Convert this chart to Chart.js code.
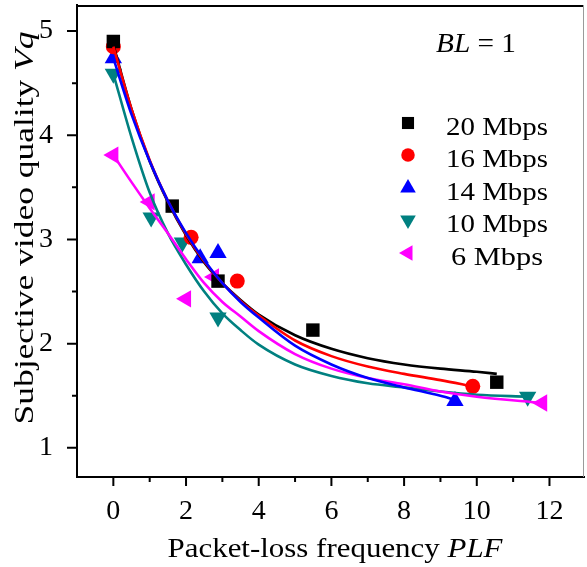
<!DOCTYPE html>
<html lang="en">
<head>
<meta charset="UTF-8" />
<title>Subjective video quality vs packet-loss frequency</title>
<script src="https://cdn.jsdelivr.net/npm/chart.js"></script>
<style>
  html, body { margin: 0; padding: 0; background: #fff; }
  #wrap { width: 587px; height: 567px; }
</style>
</head>
<body>
<div id="wrap"><canvas id="myChart" width="587" height="567"></canvas></div>
<script>
  // measured points (PLF, Vq)
  const plf20 = [0, 1.62, 2.88, 5.49, 10.55];
  const vq20  = [4.90, 3.32, 2.60, 2.13, 1.63];
  const plf16 = [0, 2.14, 3.41, 9.89];
  const vq16  = [4.85, 3.02, 2.60, 1.59];
  const plf14 = [0, 2.39, 2.88, 9.4];
  const vq14  = [4.74, 2.82, 2.87, 1.45];
  const plf10 = [0, 1.04, 1.9, 2.88, 11.4];
  const vq10  = [4.59, 3.21, 2.97, 2.25, 1.49];
  const plf6  = [0, 1.0, 2.0, 2.77, 11.8];
  const vq6   = [3.81, 3.36, 2.43, 2.64, 1.43];

  // fitted curves
  const fitX20 = [0, 0.5, 1, 1.5, 2, 2.5, 3, 3.5, 4, 5, 6, 7, 8, 9, 10, 10.55];
  const fitY20 = [4.87, 4.25, 3.75, 3.36, 3.04, 2.78, 2.58, 2.42, 2.28, 2.08, 1.95, 1.86, 1.80, 1.76, 1.73, 1.71];
  const fitX16 = [0, 0.5, 1, 1.5, 2, 2.5, 3, 3.5, 4, 5, 6, 7, 8, 9, 9.89];
  const fitY16 = [4.85, 4.25, 3.76, 3.37, 3.05, 2.79, 2.58, 2.41, 2.27, 2.03, 1.88, 1.78, 1.71, 1.65, 1.59];
  const fitX14 = [0, 0.5, 1, 1.5, 2, 2.5, 3, 3.5, 4, 5, 6, 7, 8, 9, 9.4];
  const fitY14 = [4.74, 4.20, 3.75, 3.37, 3.06, 2.80, 2.58, 2.40, 2.25, 1.98, 1.80, 1.67, 1.58, 1.50, 1.46];
  const fitX10 = [0, 0.5, 1, 1.5, 2, 2.5, 3, 3.5, 4, 5, 6, 7, 8, 9, 10, 11.4];
  const fitY10 = [4.59, 3.98, 3.45, 3.06, 2.76, 2.50, 2.29, 2.13, 1.99, 1.80, 1.69, 1.62, 1.58, 1.54, 1.51, 1.49];
  const fitX6  = [0, 0.5, 1, 1.5, 2, 2.5, 3, 3.5, 4, 5, 6, 7, 8, 9, 10, 11.8];
  const fitY6  = [3.81, 3.55, 3.30, 3.06, 2.81, 2.58, 2.40, 2.26, 2.12, 1.90, 1.76, 1.67, 1.61, 1.54, 1.49, 1.43];

  const seriesNames = ["20 Mbps", "16 Mbps", "14 Mbps", "10 Mbps", "6 Mbps"];
  const seriesColors = ["#000000", "#ff0000", "#0000ff", "#008080", "#ff00ff"];
  const seriesStyles = ["rect", "circle", "triangle", "triangle", "triangle"];
  const seriesRotation = [0, 0, 0, 180, -90];
  const seriesRadius = [9.5, 7.5, 10, 10, 10];

  const xTicks = [0, 2, 4, 6, 8, 10, 12];
  const yTicks = [1, 2, 3, 4, 5];
  const xMinor = [1, 3, 5, 7, 9, 11];
  const yMinor = [1.5, 2.5, 3.5, 4.5];

  const FONT = '"Liberation Serif", "Times New Roman", serif';

  const pts = (xs, ys) => xs.map((x, i) => ({ x: x, y: ys[i] }));
  const markerSets = [[plf20, vq20], [plf16, vq16], [plf14, vq14], [plf10, vq10], [plf6, vq6]];
  const curveSets = [[fitX20, fitY20], [fitX16, fitY16], [fitX14, fitY14], [fitX10, fitY10], [fitX6, fitY6]];
  const curveOrder = [3, 2, 1, 5, 4];

  const datasets = [];
  curveSets.forEach((c, i) => {
    datasets.push({
      label: seriesNames[i] + " fit",
      data: pts(c[0], c[1]),
      showLine: true,
      borderColor: seriesColors[i],
      borderWidth: 2.6,
      pointRadius: 0,
      fill: false,
      cubicInterpolationMode: "monotone",
      order: curveOrder[i]
    });
  });
  markerSets.forEach((m, i) => {
    datasets.push({
      label: seriesNames[i],
      data: pts(m[0], m[1]),
      showLine: false,
      pointStyle: seriesStyles[i],
      pointRotation: seriesRotation[i],
      pointRadius: seriesRadius[i],
      pointBackgroundColor: seriesColors[i],
      pointBorderColor: seriesColors[i],
      pointBorderWidth: 0,
      order: 10
    });
  });

  // text with mixed italic parts, stretched to a given width
  function drawText(ctx, parts, size, x, y, width) {
    let total = 0;
    const ws = parts.map(p => {
      ctx.font = (p[1] ? "italic " : "") + size + "px " + FONT;
      const w = ctx.measureText(p[0]).width;
      total += w;
      return w;
    });
    ctx.save();
    ctx.translate(x, y);
    ctx.scale(width ? width / total : 1, 1);
    ctx.textAlign = "left";
    ctx.textBaseline = "alphabetic";
    ctx.fillStyle = "#000";
    let cx = -total / 2;
    parts.forEach((p, i) => {
      ctx.font = (p[1] ? "italic " : "") + size + "px " + FONT;
      ctx.fillText(p[0], cx, 0);
      cx += ws[i];
    });
    ctx.restore();
  }

  function marker(ctx, style, rot, r, color, x, y) {
    ctx.save();
    ctx.fillStyle = color;
    ctx.strokeStyle = color;
    if (Chart.helpers && Chart.helpers.drawPoint) {
      Chart.helpers.drawPoint(ctx, { pointStyle: style, rotation: rot, radius: r, borderWidth: 0 }, x, y);
    }
    ctx.restore();
  }

  const noPad = () => ({ left: 0, top: 0, right: 0, bottom: 0 });

  const decorPlugin = {
    id: "decor",
    afterDraw(chart) {
      const ctx = chart.ctx;
      const a = chart.chartArea;
      const xs = chart.scales.x;
      const ys = chart.scales.y;
      ctx.save();
      // frame top and right
      ctx.strokeStyle = "#000";
      ctx.lineWidth = 2;
      ctx.beginPath();
      ctx.moveTo(a.left, a.top + 1);
      ctx.lineTo(a.right, a.top + 1);
      ctx.stroke();
      ctx.strokeStyle = "#9a9a9a";
      ctx.lineWidth = 1;
      ctx.beginPath();
      ctx.moveTo(a.right - 0.5, a.top);
      ctx.lineTo(a.right - 0.5, a.bottom);
      ctx.stroke();
      // outward ticks
      ctx.strokeStyle = "#000";
      ctx.lineWidth = 2;
      ctx.beginPath();
      xTicks.forEach(v => { const p = xs.getPixelForValue(v); ctx.moveTo(p, a.bottom); ctx.lineTo(p, a.bottom + 9); });
      xMinor.forEach(v => { const p = xs.getPixelForValue(v); ctx.moveTo(p, a.bottom); ctx.lineTo(p, a.bottom + 5); });
      yTicks.forEach(v => { const p = ys.getPixelForValue(v); ctx.moveTo(a.left, p); ctx.lineTo(a.left - 10, p); });
      yMinor.forEach(v => { const p = ys.getPixelForValue(v); ctx.moveTo(a.left, p); ctx.lineTo(a.left - 5, p); });
      ctx.stroke();

      // axis titles
      drawText(ctx, [["Packet-loss frequency ", false], ["PLF", true]], 28, 335, 557, 335);
      ctx.save();
      ctx.translate(33, 228);
      ctx.rotate(-Math.PI / 2);
      drawText(ctx, [["Subjective video quality ", false], ["Vq", true]], 27, 0, 0, 393);
      ctx.restore();

      // annotation
      drawText(ctx, [["BL", true], [" = 1", false]], 28, 476, 52, 80);

      // legend
      const rowY = [123, 155, 188, 220, 253];
      const textW = [102, 102, 102, 102, 92];
      seriesNames.forEach((n, i) => {
        marker(ctx, seriesStyles[i], seriesRotation[i], seriesRadius[i] * 0.9, seriesColors[i], 408, rowY[i]);
        drawText(ctx, [[n, false]], 26, 497, rowY[i] + 12, textW[i]);
      });
      ctx.restore();
    }
  };

  const ctx = document.getElementById("myChart").getContext("2d");
  const myChart = new Chart(ctx, {
    type: "scatter",
    data: { datasets: datasets },
    options: {
      responsive: false,
      animation: false,
      devicePixelRatio: 1,
      layout: { autoPadding: false, padding: { top: 5, right: 3, left: 0, bottom: 0 } },
      plugins: { legend: { display: false }, title: { display: false }, tooltip: { enabled: false } },
      scales: {
        x: {
          type: "linear",
          min: -1,
          max: 12.95,
          afterBuildTicks: s => { s.ticks = xTicks.map(v => ({ value: v })); },
          afterFit: s => { s.height = 90; s.paddingLeft = 0; s.paddingRight = 0; s.getPadding = noPad; },
          grid: { display: false, drawTicks: false },
          border: { display: true, color: "#000", width: 2 },
          ticks: { color: "#000", font: { family: FONT, size: 28 }, padding: 18, maxRotation: 0 }
        },
        y: {
          type: "linear",
          min: 0.72,
          max: 5.25,
          afterBuildTicks: s => { s.ticks = yTicks.map(v => ({ value: v })); },
          afterFit: s => { s.width = 77; s.paddingTop = 0; s.paddingBottom = 0; s.getPadding = noPad; },
          grid: { display: false, drawTicks: false },
          border: { display: true, color: "#000", width: 2 },
          ticks: { color: "#000", font: { family: FONT, size: 28 }, padding: 24 }
        }
      }
    },
    plugins: [decorPlugin]
  });
</script>
</body>
</html>
